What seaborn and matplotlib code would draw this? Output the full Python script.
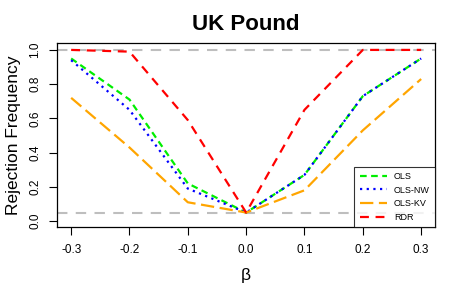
import matplotlib
matplotlib.use("Agg")
import matplotlib.pyplot as plt
import seaborn as sns
import pandas as pd

beta = [-0.3, -0.2, -0.1, 0.0, 0.1, 0.2, 0.3]
ols = [0.95, 0.71, 0.22, 0.05, 0.27, 0.73, 0.95]
ols_nw = [0.94, 0.65, 0.19, 0.05, 0.27, 0.73, 0.95]
ols_kv = [0.72, 0.43, 0.11, 0.05, 0.18, 0.53, 0.83]
rdr = [1.00, 0.99, 0.59, 0.05, 0.65, 1.00, 1.00]
series_names = ["OLS", "OLS-NW", "OLS-KV", "RDR"]
colors = ["#00ee00", "#0000ff", "#ffa500", "#ff0000"]
dash_styles = [(0, (3, 2)), (0, (1, 2)), (0, (6, 2.5)), (0, (4, 3))]

sns.set_style("white")
plt.rcParams['font.family'] = ['Liberation Sans', 'DejaVu Sans']
plt.rcParams['text.color'] = 'black'
plt.rcParams['axes.labelcolor'] = 'black'

df = pd.DataFrame({
    "beta": beta * 4,
    "value": ols + ols_nw + ols_kv + rdr,
    "series": sum([[n] * len(beta) for n in series_names], []),
})

fig = plt.figure(figsize=(4.5, 3), dpi=100)
ax = fig.add_axes([0.127, 0.243, 0.84, 0.614])

for y in [1.0, 0.05]:
    ax.axhline(y, color="#bebebe", lw=1.5, linestyle=(0, (5, 4)), zorder=1)

for name, c, ls in zip(series_names, colors, dash_styles):
    sub = df[df["series"] == name]
    sns.lineplot(data=sub, x="beta", y="value", ax=ax, color=c,
                 linestyle=ls, lw=1.6, label=name, zorder=3)

ax.set_xlim(-0.324, 0.324)
ax.set_ylim(-0.035, 1.041)
ax.set_xticks(beta)
ax.set_xticklabels([f"{b:.1f}" for b in beta])
ax.set_yticks([0, 0.2, 0.4, 0.6, 0.8, 1.0])
ax.set_yticklabels(["0.0", "0.2", "0.4", "0.6", "0.8", "1.0"], rotation=90, va="center")
ax.tick_params(axis="both", direction="out", length=5.5, width=0.8, labelsize=8.5,
               bottom=True, left=True, colors="black")
ax.tick_params(axis="x", pad=7)
ax.tick_params(axis="y", pad=6)
for s in ax.spines.values():
    s.set_color("black")
    s.set_linewidth(0.9)

ax.set_xlabel("β", fontsize=12.5, labelpad=8, color="black")
ax.set_ylabel("Rejection Frequency", fontsize=12.5, labelpad=6, color="black")
ax.set_title("UK Pound", fontsize=16, fontweight="bold", pad=9, color="black")

leg = ax.legend(loc="lower right", fontsize=6.5, frameon=True, fancybox=False,
                edgecolor="black", borderaxespad=0, handlelength=3,
                labelspacing=0.5, borderpad=0.6)
leg.get_frame().set_linewidth(0.8)
for t in leg.get_texts():
    t.set_color("black")

fig.savefig("out.png", dpi=100)
